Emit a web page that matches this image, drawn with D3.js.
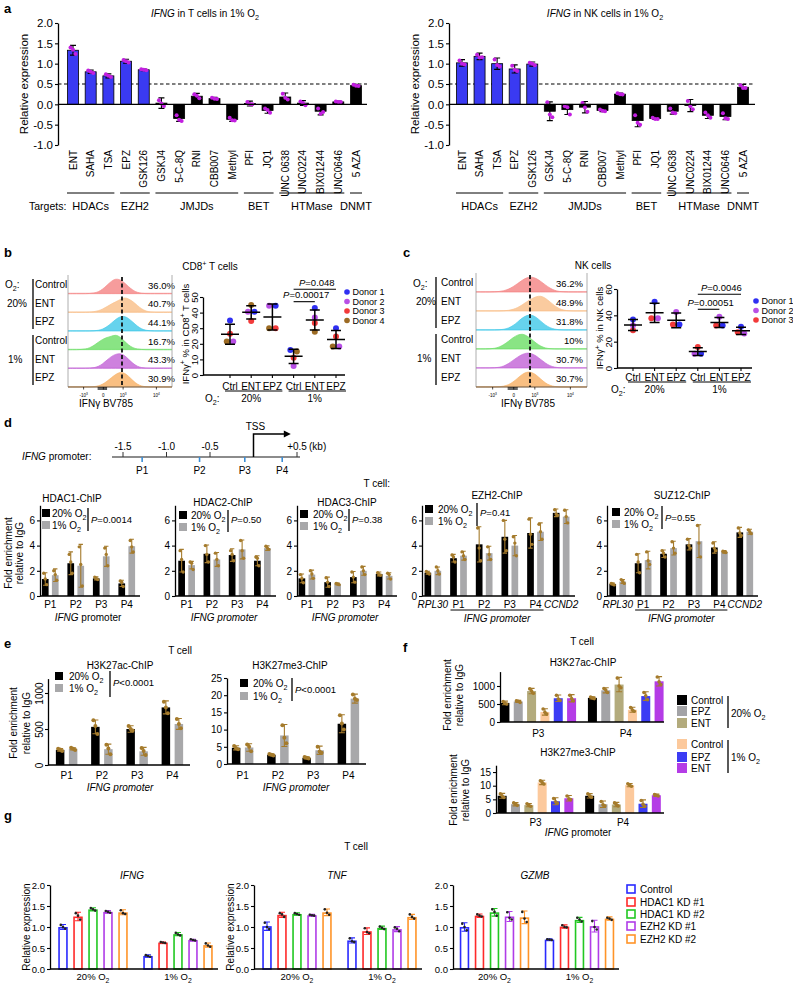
<!DOCTYPE html>
<html>
<head>
<meta charset="utf-8">
<script src="https://cdn.jsdelivr.net/npm/d3@7"></script>
<style>
  body { margin: 0; background: #fff; }
  svg { display: block; }
</style>
</head>
<body>
<div id="chart"></div>
<script>
// ---------- data: panel a ----------
const aCats = ["ENT","SAHA","TSA","EPZ","GSK126","GSKJ4","5-C-8Q","RNI","CBB007","Methyl","PFI","JQ1","UNC 0638","UNC0224","BIX01244","UNC0646","5 AZA"];
const aGroups = ["HDACs","EZH2","JMJDs","BET","HTMase","DNMT"];
const aGroupFirst = ["ENT","EPZ","GSKJ4","PFI","UNC 0638","5 AZA"];
const aGroupLast = ["TSA","GSK126","Methyl","JQ1","UNC0646","5 AZA"];
const aTicks = [-1, -0.5, 0, 0.5, 1, 1.5, 2];
const aTMean = [1.33,0.80,0.70,1.06,0.85,0.03,-0.35,0.20,0.14,-0.37,0.02,-0.15,0.18,0.03,-0.17,0.06,0.46];
const aTSd = [0.12,0.04,0.05,0.05,0.02,0.13,0.07,0.07,0.03,0.05,0.06,0.07,0.10,0.06,0.09,0.02,0.03];
const aTPts = [[1.40,1.34,1.24],[0.83,0.80,0.77],[0.74,0.70,0.67],[1.09,1.06,1.03],[0.86,0.85,0.84],[0.10,0.02,-0.04],[-0.27,-0.38,-0.41],[0.25,0.21,0.15],[0.16,0.14,0.13],[-0.33,-0.39,-0.40],[0.06,0.01,0.00],[-0.10,-0.14,-0.21],[0.26,0.16,0.12],[0.07,0.03,-0.02],[-0.10,-0.23,-0.19],[0.07,0.06,0.06],[0.48,0.46,0.45]];
const aNKMean = [1.02,1.18,1.00,0.87,0.99,-0.17,-0.13,-0.07,-0.15,0.25,-0.40,-0.35,-0.17,-0.03,-0.27,-0.30,0.42];
const aNKSd = [0.08,0.08,0.14,0.10,0.05,0.23,0.12,0.14,0.03,0.03,0.15,0.02,0.07,0.15,0.08,0.08,0.07];
const aNKPts = [[1.08,1.00,0.98],[1.22,1.15,1.16],[1.10,0.97,0.93],[0.95,0.85,0.82],[1.02,1.00,0.96],[0.05,-0.25,-0.32],[-0.05,-0.07,-0.25],[0.03,-0.08,-0.18],[-0.13,-0.16,-0.17],[0.27,0.25,0.24],[-0.27,-0.45,-0.50],[-0.33,-0.36,-0.36],[-0.10,-0.20,-0.22],[0.08,-0.05,-0.12],[-0.20,-0.27,-0.33],[-0.22,-0.34,-0.36],[0.47,0.40,0.40]];

// ---------- data: panels b, c ----------
const flowConds = ["Control","ENT","EPZ","Control","ENT","EPZ"];
const flowAxisLabels = ["-10^3","0","10^3","10^4"];
const flowAxisPos = [0.15, 0.34, 0.53, 0.85];
const bHist = [
  [0,0,0,0,0,0.01,0.04,0.12,0.3,0.56,0.84,1.0,0.95,0.74,0.46,0.22,0.08,0.02,0,0,0,0,0,0,0],
  [0,0,0,0,0,0.01,0.04,0.1,0.22,0.38,0.56,0.7,0.85,1.0,0.9,0.72,0.46,0.22,0.08,0.02,0,0,0,0,0],
  [0,0,0,0,0,0,0.01,0.04,0.12,0.28,0.52,0.78,0.96,1.0,0.84,0.58,0.32,0.13,0.04,0.01,0,0,0,0,0],
  [0,0,0,0.01,0.04,0.12,0.28,0.5,0.7,0.82,0.9,1.0,0.86,0.58,0.3,0.12,0.04,0.01,0,0,0,0,0,0,0],
  [0,0,0,0,0,0.01,0.04,0.12,0.3,0.55,0.8,0.95,1.0,0.88,0.6,0.32,0.13,0.04,0.01,0,0,0,0,0,0],
  [0,0,0,0,0,0,0.02,0.07,0.18,0.38,0.62,0.85,1.0,0.95,0.72,0.42,0.18,0.06,0.01,0,0,0,0,0,0]
];
const bPct = ["36.0%","40.7%","44.1%","16.7%","43.3%","30.9%"];
const cHist = [
  [0,0,0,0,0.01,0.03,0.08,0.18,0.34,0.55,0.78,0.95,1.0,0.9,0.7,0.46,0.25,0.1,0.03,0.01,0,0,0,0,0],
  [0,0,0,0,0,0,0.01,0.04,0.1,0.22,0.4,0.62,0.8,0.95,1.0,0.85,0.6,0.34,0.15,0.05,0.01,0,0,0,0],
  [0,0,0,0,0,0.01,0.04,0.12,0.28,0.52,0.8,0.97,1.0,0.85,0.58,0.32,0.14,0.05,0.01,0,0,0,0,0,0],
  [0,0,0,0.01,0.04,0.12,0.28,0.5,0.75,0.93,1.0,0.88,0.64,0.38,0.18,0.06,0.02,0,0,0,0,0,0,0,0],
  [0,0,0,0,0.01,0.04,0.12,0.28,0.5,0.72,0.9,1.0,0.96,0.8,0.56,0.32,0.14,0.05,0.01,0,0,0,0,0,0],
  [0,0,0,0,0,0.01,0.05,0.14,0.32,0.58,0.84,1.0,0.98,0.8,0.52,0.26,0.1,0.03,0,0,0,0,0,0,0]
];
const cPct = ["36.2%","48.9%","31.8%","10%","30.7%","30.7%"];
const scatCats = ["Ctrl","ENT","EPZ","Ctrl","ENT","EPZ"];
const scatO2 = ["20%","1%"];
const donors = ["Donor 1","Donor 2","Donor 3","Donor 4"];
// one row per condition, donors 1..4
const bVals = [[35,21.5,26.5,21.5],[40.6,40.6,34.6,44.9],[44.4,44.4,30,30],[16,5.8,11,15],[43,36.8,33.3,27.8],[30,18.2,24.6,18.2]];
const cVals = [[36.9,32.3,28.7],[50.3,37.7,37.7],[33,42.6,33],[10.8,10.8,15.9],[32.3,39,32.3],[31.3,26.2,27.2]];
const bPFrom = [3, 3], bPTo = [5, 4], bPAt = [55, 47], bPText = ["*P*=0.048", "*P*=0.00017"];
const cPFrom = [3, 3], cPTo = [5, 4], cPAt = [56, 44.6], cPText = ["*P*=0.0046", "*P*=0.00051"];

// ---------- data: panel d ----------
const kbTicks = [-1.5, -1.0, -0.5, 0.5];
const kbTickLabels = ["-1.5", "-1.0", "-0.5", "+0.5"];
const probes = ["P1","P2","P3","P4"];
const probeKb = [-1.28, -0.62, -0.10, 0.33];
const chip4 = ["P1","P2","P3","P4"];
const chip6 = ["RPL30","P1","P2","P3","P4","CCND2"];
const o2Labels = ["20% O_2", "1% O_2"];
const hdac1Mean = [[1.35,2.6,1.4,1.0],[1.65,2.4,3.15,3.95]];
const hdac1Sd = [[0.5,0.9,0.12,0.25],[0.5,1.7,0.8,0.55]];
const hdac1Pts = [[[1.8,1.35,0.9],[3.3,2.7,1.8],[1.5,1.4,1.3],[1.2,1.1,0.75]],[[2.0,1.7,1.25],[3.9,2.5,0.8],[3.8,3.3,2.4],[4.4,3.9,3.5]]];
const hdac2Mean = [[2.8,3.35,3.25,2.8],[2.45,2.9,3.7,3.8]];
const hdac2Sd = [[0.9,0.7,0.5,0.4],[0.3,0.55,0.75,0.18]];
const hdac2Pts = [[[3.6,2.9,1.9],[4.0,3.3,2.7],[3.6,3.3,2.8],[3.1,3.0,2.4]],[[2.7,2.6,2.1],[3.4,2.9,2.4],[4.4,3.6,3.0],[3.95,3.8,3.7]]];
const hdac3Mean = [[1.4,1.1,1.5,1.75],[1.7,0.95,2.0,1.6]];
const hdac3Sd = [[0.35,0.4,0.45,0.15],[0.35,0.08,0.35,0.25]];
const hdac3Pts = [[[1.7,1.4,1.05],[1.45,1.1,0.75],[1.9,1.5,1.1],[1.85,1.7,1.65]],[[2.0,1.75,1.4],[1.0,0.95,0.9],[2.3,2.0,1.7],[1.8,1.7,1.35]]];
const ezh2Mean = [[1.85,3.0,4.1,4.7,5.0,6.6],[2.0,3.2,3.4,4.0,5.1,6.3]];
const ezh2Sd = [[0.12,0.3,1.4,1.3,1.2,0.3],[0.3,0.35,0.55,0.8,0.7,0.55]];
const ezh2Pts = [[[1.95,1.85,1.75],[3.25,3.1,2.7],[5.4,3.8,2.8],[6.0,4.5,3.6],[6.1,4.9,4.1],[6.85,6.5,6.4]],[[2.3,2.0,1.75],[3.5,3.2,2.9],[3.9,3.3,2.9],[4.7,4.2,3.2],[5.7,5.1,4.5],[6.8,6.3,5.8]]];
const suz12Mean = [[0.95,2.6,3.35,4.1,3.85,5.05],[1.15,2.85,3.8,4.35,3.5,5.1]];
const suz12Sd = [[0.08,0.75,0.3,0.45,0.45,0.4],[0.15,0.7,0.55,1.3,0.1,0.2]];
const suz12Pts = [[[1.0,0.95,0.88],[3.3,2.7,1.85],[3.6,3.4,3.1],[4.5,4.0,3.8],[4.2,3.8,3.6],[5.4,5.0,4.8]],[[1.3,1.15,1.0],[3.5,2.8,2.5],[4.3,3.8,3.4],[5.6,4.2,3.1],[3.55,3.5,3.45],[5.25,5.1,4.95]]];

// ---------- data: panel e ----------
const ac27Mean = [[210,530,500,800],[225,220,190,570]];
const ac27Sd = [[20,95,45,90],[15,70,55,75]];
const ac27Pts = [[[225,215,195],[620,540,430],[540,500,480],[880,800,720]],[[240,225,210],[280,230,150],[235,195,140],[640,570,510]]];
const me3Mean = [[4.7,2.7,1.8,11.7],[4.8,8.3,4.0,19.0]];
const me3Sd = [[0.6,0.3,0.3,2.6],[1.1,3.2,1.2,1.3]];
const me3Pts = [[[5.2,4.6,4.3],[2.9,2.7,2.5],[2.0,1.8,1.6],[14.2,11.8,10.0]],[[5.7,5.0,3.7],[11.3,7.6,6.0],[5.0,3.6,3.3],[20.2,19.0,18.6]]];

// ---------- data: panel f ----------
const fConds = ["Control","EPZ","ENT","Control","EPZ","ENT"];
const fSites = ["P3","P4"];
const fAcMean = [[530,670],[570,880],[860,1040],[280,340],[660,720],[660,1130]];
const fAcSd = [[50,30],[30,70],[75,200],[90,70],[90,120],[100,130]];
const fAcPts = [[[570,520,500],[695,670,650]],[[590,575,545],[930,890,820]],[[920,860,800],[1220,1000,950]],[[360,270,220],[400,330,300]],[[740,640,600],[820,730,620]],[[740,650,590],[1250,1120,1040]]];
const fMeMean = [[6.3,6.3],[3.2,3.2],[2.9,3.1],[11.2,10.2],[4.3,3.4],[5.4,6.5]];
const fMeSd = [[0.9,0.8],[0.6,1.2],[0.6,0.8],[0.8,0.6],[1.3,1.4],[1.0,0.4]];
const fMePts = [[[7.0,6.2,5.7],[7.0,6.3,5.8]],[[3.7,3.2,2.8],[4.2,3.0,2.6]],[[3.4,2.8,2.5],[3.7,3.1,2.6]],[[11.8,11.2,10.6],[10.7,10.2,9.8]],[[5.3,4.1,3.6],[4.6,3.2,2.5]],[[6.2,5.2,4.9],[6.8,6.5,6.2]]];

// ---------- data: panel g ----------
const kdConds = ["Control","HDAC1 KD #1","HDAC1 KD #2","EZH2 KD #1","EZH2 KD #2"];
const kdO2 = ["20% O_2","1% O_2"];
const ifngMean = [[1.0,0.31],[1.25,0.63],[1.42,0.83],[1.36,0.69],[1.35,0.57]];
const ifngSd = [[0.06,0.03],[0.1,0.01],[0.04,0.04],[0.03,0.02],[0.06,0.05]];
const ifngPts = [[[1.05,1.0,0.96],[0.33,0.31,0.29]],[[1.33,1.27,1.18],[0.64,0.63,0.62]],[[1.45,1.42,1.39],[0.86,0.82,0.8]],[[1.38,1.36,1.34],[0.71,0.69,0.68]],[[1.4,1.33,1.31],[0.61,0.56,0.53]]];
const tnfMean = [[1.02,0.68],[1.29,0.9],[1.31,0.98],[1.28,0.95],[1.35,1.24]];
const tnfSd = [[0.1,0.06],[0.06,0.08],[0.03,0.04],[0.02,0.06],[0.08,0.06]];
const tnfPts = [[[1.1,1.0,0.95],[0.73,0.66,0.64]],[[1.33,1.3,1.24],[0.97,0.88,0.85]],[[1.33,1.31,1.29],[1.01,0.98,0.95]],[[1.29,1.28,1.27],[0.99,0.96,0.9]],[[1.42,1.34,1.29],[1.3,1.24,1.2]]];
const gzmbMean = [[1.0,0.7],[1.27,1.01],[1.35,1.17],[1.25,1.02],[1.23,1.2]];
const gzmbSd = [[0.1,0.02],[0.04,0.04],[0.09,0.06],[0.12,0.14],[0.15,0.04]];
const gzmbPts = [[[1.08,1.0,0.92],[0.71,0.7,0.69]],[[1.3,1.27,1.25],[1.04,1.0,0.99]],[[1.42,1.36,1.27],[1.22,1.18,1.13]],[[1.35,1.22,1.18],[1.14,1.0,0.94]],[[1.36,1.2,1.12],[1.22,1.2,1.17]]];

// ---------- styles ----------
const FONT = "'Liberation Sans', Arial, Helvetica, sans-serif";
const BLUE = "#3a3af2", MAG = "#c21fe0", GOLD = "#a57b2c", GREY = "#a8a8aa";
const chipCols = ["#000", GREY];
const flowCols = ["#f58b8b","#f9c28e","#4bcbea","#74df6e","#c66bd8","#f8b46c"];
const donorCols = ["#2f2ff2","#b850e6","#f23a3a","#9c6b24"];
const fCols = ["#000","#a3a3a6","#b3ab7d","#fcc99c","#3c3cf4","#b43ce6"];
const kdCols = ["#2a2aff","#ff2a2a","#22c822","#b03ce8","#ff9428"];

const svg = d3.select("#chart").append("svg")
  .attr("width", 793).attr("height", 986)
  .attr("font-family", FONT);
svg.append("rect").attr("width", 793).attr("height", 986).attr("fill", "#fff");

// tiny markup: *italic*, _x subscript, ^x superscript
function rich(sel, str, fs) {
  const segs = [];
  let it = false, buf = "";
  const flush = () => { if (buf) segs.push({t: buf, it}); buf = ""; };
  for (let i = 0; i < str.length; i++) {
    const ch = str[i];
    if (ch === "*") { flush(); it = !it; }
    else if (ch === "_" || ch === "^") { flush(); segs.push({t: str[++i], it, s: ch}); }
    else buf += ch;
  }
  flush();
  let cur = 0;
  segs.forEach(sg => {
    const ts = sel.append("tspan").text(sg.t);
    if (sg.it) ts.attr("font-style", "italic");
    const want = sg.s === "_" ? fs * 0.3 : sg.s === "^" ? -fs * 0.4 : 0;
    if (want !== cur) { ts.attr("dy", want - cur); cur = want; }
    if (sg.s) ts.attr("font-size", fs * 0.72);
  });
}

function T(g, x, y, str, o = {}) {
  const fs = o.fs || 10;
  const t = g.append("text").attr("x", x).attr("y", y + fs * 0.35)
    .attr("font-size", fs).attr("text-anchor", o.anchor || "middle")
    .style("white-space", "pre");
  if (o.bold) t.attr("font-weight", "bold");
  if (o.rot) t.attr("transform", `rotate(${o.rot},${x},${y})`);
  rich(t, str, fs);
  return t;
}

function line(g, x1, y1, x2, y2, w = 1.2, col = "#000") {
  return g.append("line").attr("x1", x1).attr("y1", y1).attr("x2", x2).attr("y2", y2)
    .attr("stroke", col).attr("stroke-width", w);
}

function yAxis(g, y, x, ticks, fmt, fs, rot) {
  const a = g.append("g").attr("transform", `translate(${x},0)`)
    .call(d3.axisLeft(y).tickValues(ticks).tickFormat(fmt).tickSize(3).tickSizeOuter(0).tickPadding(2));
  a.attr("font-family", FONT).attr("font-size", fs);
  a.select(".domain").attr("stroke-width", 1.3);
  a.selectAll(".tick line").attr("stroke-width", 1.1);
  if (rot) a.selectAll(".tick text").attr("transform", "rotate(-90)")
    .attr("text-anchor", "middle").attr("x", 0).attr("y", -5).attr("dy", 0);
  return a;
}

function errBars(g, rows, y, cap, col, sw) {
  g.append("g").selectAll("path").data(rows).join("path")
    .attr("d", d => {
      const t = y(d.m + d.sd), b = y(d.m - d.sd);
      return `M${d.cx - cap},${t}H${d.cx + cap}M${d.cx},${t}V${b}M${d.cx - cap},${b}H${d.cx + cap}`;
    })
    .attr("fill", "none").attr("stroke", d => col(d)).attr("stroke-width", sw);
}

function dots(g, rows, y, r, col, sp) {
  const pts = rows.flatMap(d => d.pts.map((v, k) => ({cx: d.cx + (k - 1) * sp, v, d})));
  g.append("g").selectAll("circle").data(pts).join("circle")
    .attr("cx", p => p.cx).attr("cy", p => y(p.v)).attr("r", r).attr("fill", p => col(p.d));
}

// ---------- panel letters ----------
[["a", 4, 8], ["b", 4, 252], ["c", 403, 252], ["d", 4, 422], ["e", 4, 643], ["f", 403, 647], ["g", 4, 815]]
  .forEach(([s, x, y]) => T(svg, x, y, s, {fs: 13, bold: true, anchor: "start"}));

// ---------- panel a ----------
function drawA(mean, sd, pts, ax, end, c0, c1, title, titleX, yLabX, targets) {
  const g = svg.append("g");
  const y = d3.scaleLinear().domain([-1, 2]).range([145, 23]);
  const x = d3.scalePoint().domain(aCats).range([c0, c1]);
  const rows = aCats.map((c, i) => ({i, cx: x(c), m: mean[i], sd: sd[i], pts: pts[i]}));
  line(g, ax, y(0.5), end, y(0.5), 1.1).attr("stroke-dasharray", "3.5,2.5");
  g.append("g").selectAll("rect").data(rows).join("rect")
    .attr("x", d => d.cx - 5.5).attr("width", 11)
    .attr("y", d => y(Math.max(0, d.m))).attr("height", d => Math.abs(y(d.m) - y(0)))
    .attr("fill", d => d.i < 5 ? BLUE : "#000").attr("stroke", "#000").attr("stroke-width", 0.8);
  errBars(g, rows, y, 3, () => "#000", 1.1);
  dots(g, rows, y, 2, () => MAG, 2.5);
  line(g, ax, y(0), end, y(0), 1.3);
  yAxis(g, y, ax, aTicks, d => d.toFixed(1), 11.5);
  T(g, titleX, 13, title, {fs: 10});
  T(g, yLabX, y(0.5), "Relative expression", {fs: 11.5, rot: -90});
  aCats.forEach(c => T(g, x(c), 150, c, {fs: 10, rot: -90, anchor: "end"}));
  aGroups.forEach((name, k) => {
    const xa = x(aGroupFirst[k]) - 6, xb = x(aGroupLast[k]) + 6;
    line(g, xa, 193, xb, 193, 1);
    T(g, (xa + xb) / 2, 206, name, {fs: 11});
  });
  if (targets) T(g, 29, 206, "Targets:", {fs: 10.5, anchor: "start"});
}
drawA(aTMean, aTSd, aTPts, 58, 367, 73, 356, "*IFNG* in T cells in 1% O_2", 205, 24, true);
drawA(aNKMean, aNKSd, aNKPts, 449, 755, 462, 743, "*IFNG* in NK cells in 1% O_2", 605, 415, false);

// ---------- panels b, c: flow histograms ----------
function drawFlow(hist, pct, o) {
  const g = svg.append("g");
  const rh = (o.y1 - o.y0) / hist.length;
  const xs = d3.scaleLinear().domain([0, hist[0].length - 1]).range([o.x0, o.x1]);
  const fx = d3.scaleLinear().domain([0, 1]).range([o.x0, o.x1]);
  hist.forEach((h, i) => {
    const base = o.y0 + rh * (i + 1);
    const ys = d3.scaleLinear().domain([0, 1]).range([base, base - rh * 0.8]);
    line(g, o.x0, base - 0.5, o.x1, base - 0.5, 1, flowCols[i]).attr("stroke-opacity", 0.45);
    g.append("path").datum(h)
      .attr("d", d3.area().x((d, j) => xs(j)).y0(base).y1(d => ys(d)).curve(d3.curveBasis))
      .attr("fill", flowCols[i]).attr("fill-opacity", 0.85)
      .attr("stroke", flowCols[i]).attr("stroke-width", 0.7);
    T(g, o.pctX, base - rh / 2 + 1, pct[i], {fs: 9.5, anchor: "end"});
    T(g, o.labX, base - rh / 2, flowConds[i], {fs: 10, anchor: "start"});
  });
  line(g, o.x0, o.y0, o.x0, o.y1, 0.8, "#999");
  line(g, o.x1, o.y0, o.x1, o.y1, 0.8, "#999");
  line(g, o.x0, o.y1, o.x1, o.y1, 0.8, "#444");
  line(g, o.dash, o.y0 + 2, o.dash, o.y1, 1.8, "#111").attr("stroke-dasharray", "4,2.5");
  flowAxisPos.forEach((p, i) => {
    line(g, fx(p), o.y1, fx(p), o.y1 + 2.5, 0.7);
    T(g, fx(p), o.y1 + 8, flowAxisLabels[i], {fs: 4.5});
  });
  g.append("g").selectAll("line").data(d3.range(0.29, 0.375, 0.009)).join("line")
    .attr("x1", d => fx(d)).attr("x2", d => fx(d)).attr("y1", o.y1).attr("y2", o.y1 + 3)
    .attr("stroke", "#000").attr("stroke-width", 0.7);
  T(g, o.titleX, o.y1 + 16, "IFNγ BV785", {fs: 10});
  // O2 grouping
  T(g, o.o2X, o.o2Y, "O_2:", {fs: 10, anchor: "start"});
  line(g, o.vX, o.y0 + 4, o.vX, o.y0 + 3 * rh - 2, 1.3);
  line(g, o.vX, o.y0 + 3 * rh + 4, o.vX, o.y1 - 2, 1.3);
  T(g, o.gpX, o.y0 + rh * 1.5, "20%", {fs: 10, anchor: "start"});
  T(g, o.gpX + 1, o.y0 + rh * 4.5, "1%", {fs: 10, anchor: "start"});
}
drawFlow(bHist, bPct, {x0: 68, x1: 172, y0: 275, y1: 387, dash: 122, labX: 35, vX: 33, o2X: 5, o2Y: 284, gpX: 7, pctX: 175, titleX: 106});
drawFlow(cHist, cPct, {x0: 476, x1: 587, y0: 273, y1: 387, dash: 530, labX: 441, vX: 436, o2X: 413, o2Y: 283, gpX: 416, pctX: 583, titleX: 528});
T(svg, 210, 266, "CD8^+ T cells", {fs: 10});
T(svg, 593, 265, "NK cells", {fs: 10});

// ---------- panels b, c: scatter ----------
function drawScatter(vals, nD, o) {
  const g = svg.append("g");
  const y = d3.scaleLinear().domain(o.dom).range([o.y0, o.yTop]);
  const x = d3.scalePoint().domain(d3.range(vals.length)).range([o.c0, o.c1]);
  yAxis(g, y, o.ax, o.ticks, d => d, 9.5, true);
  line(g, o.ax, o.y0, o.xEnd, o.y0, 1.3);
  g.append("g").selectAll("line").data(d3.range(vals.length)).join("line")
    .attr("x1", i => x(i)).attr("x2", i => x(i)).attr("y1", o.y0).attr("y2", o.y0 + 3)
    .attr("stroke", "#000").attr("stroke-width", 1.1);
  scatCats.forEach((c, i) => T(g, x(i), o.labY, c, {fs: 10}));
  scatO2.forEach((s, k) => {
    const xa = x(k * 3) - 5, xb = x(k * 3 + 2) + 10;
    line(g, xa, o.ulY, xb, o.ulY, 1);
    T(g, (x(k * 3) + x(k * 3 + 2)) / 2, o.grpY, s, {fs: 10});
  });
  T(g, o.o2X, o.grpY, "O_2:", {fs: 10, anchor: "start"});
  // donor dots, spread apart when values coincide
  const pts = [];
  vals.forEach((v, i) => {
    const order = d3.sort(d3.range(v.length), k => v[k]);
    const clusters = [];
    order.forEach(k => {
      const last = clusters[clusters.length - 1];
      if (last && v[k] - v[last[last.length - 1]] < 2.5) last.push(k); else clusters.push([k]);
    });
    clusters.forEach(cl => cl.slice().reverse().forEach((k, j) =>
      pts.push({cx: x(i) + (j - (cl.length - 1) / 2) * 6.5, v: v[k], k})));
  });
  g.append("g").selectAll("circle").data(pts).join("circle")
    .attr("cx", p => p.cx).attr("cy", p => y(p.v)).attr("r", 3).attr("fill", p => donorCols[p.k]);
  const sum = vals.map((v, i) => ({cx: x(i), m: d3.mean(v), sd: d3.deviation(v)}));
  g.append("g").selectAll("path").data(sum).join("path")
    .attr("d", d => `M${d.cx - 9},${y(d.m)}H${d.cx + 9}M${d.cx},${y(d.m + d.sd)}V${y(d.m - d.sd)}` +
      `M${d.cx - 5},${y(d.m + d.sd)}H${d.cx + 5}M${d.cx - 5},${y(d.m - d.sd)}H${d.cx + 5}`)
    .attr("fill", "none").attr("stroke", "#000").attr("stroke-width", 1.5);
  o.pFrom.forEach((f, k) => {
    line(g, x(f), y(o.pAt[k]), x(o.pTo[k]), y(o.pAt[k]), 1.1);
    T(g, (x(f) + x(o.pTo[k])) / 2 + 2, y(o.pAt[k]) - 7, o.pText[k], {fs: 9.5});
  });
  donors.slice(0, nD).forEach((d, k) => {
    g.append("circle").attr("cx", o.legX).attr("cy", o.legY[k]).attr("r", 2.8).attr("fill", donorCols[k]);
    T(g, o.legX + 5.5, o.legY[k], d, {fs: 9, anchor: "start"});
  });
  T(g, o.yLabX, o.yLabY, o.yLab, {fs: 9.5, rot: -90});
}
drawScatter(bVals, 4, {ax: 203, y0: 375, yTop: 297, dom: [0, 50], ticks: [0, 10, 20, 30, 40, 50],
  c0: 230, c1: 336, xEnd: 345, labY: 386, ulY: 391, grpY: 398, o2X: 205,
  pFrom: bPFrom, pTo: bPTo, pAt: bPAt, pText: bPText,
  legX: 347, legY: [292, 301.5, 311, 320.5], yLabX: 185.5, yLabY: 334, yLab: "IFNγ^+ % in CD8^+ T cells"});
drawScatter(cVals, 3, {ax: 617, y0: 368, yTop: 289, dom: [0, 60], ticks: [0, 20, 40, 60],
  c0: 633, c1: 741, xEnd: 752, labY: 377, ulY: 382, grpY: 389, o2X: 611,
  pFrom: cPFrom, pTo: cPTo, pAt: cPAt, pText: cPText,
  legX: 756, legY: [301, 310.5, 320], yLabX: 600, yLabY: 328, yLab: "IFNγ^+ % in NK cells"});

// ---------- panel d: promoter map ----------
(function () {
  const g = svg.append("g");
  const kb = d3.scaleLinear().domain([-1.5, 0.5]).range([123, 297]);
  const ly = 457;
  T(g, 22, 456, "*IFNG* promoter:", {fs: 10, anchor: "start"});
  line(g, 112, ly, 300, ly, 1.3, "#666");
  g.append("g").selectAll("line").data(kbTicks).join("line")
    .attr("x1", d => kb(d)).attr("x2", d => kb(d)).attr("y1", ly - 5).attr("y2", ly)
    .attr("stroke", "#333").attr("stroke-width", 1);
  kbTicks.forEach((d, i) => T(g, kb(d), 446, kbTickLabels[i], {fs: 10}));
  T(g, kb(0.5) + 12, 446, "(kb)", {fs: 10, anchor: "start"});
  g.append("path").attr("d", `M${kb(0)},${ly}V434H${kb(0.36)}`)
    .attr("fill", "none").attr("stroke", "#000").attr("stroke-width", 1.5);
  g.append("path").attr("d", `M${kb(0.36) - 1},430.5L${kb(0.36) + 6},434L${kb(0.36) - 1},437.5Z`).attr("fill", "#000");
  T(g, kb(0) + 2, 426, "TSS", {fs: 10});
  g.append("g").selectAll("line").data(probeKb).join("line")
    .attr("x1", d => kb(d)).attr("x2", d => kb(d)).attr("y1", ly).attr("y2", ly + 5)
    .attr("stroke", "#3b8ed6").attr("stroke-width", 1.6);
  probes.forEach((p, i) => T(g, kb(probeKb[i]), 470, p, {fs: 10}));
  T(g, 390, 483, "T cell:", {fs: 10, anchor: "end"});
})();

// ---------- grouped bar charts (d, e, f, g) ----------
function drawChip(o) {
  const g = svg.append("g");
  const y = d3.scaleLinear().domain([0, o.ymax]).range([o.y0, o.y0 - o.ymax * o.ppu]);
  const nC = o.mean[0].length, nS = o.mean.length;
  const xo = d3.scaleBand().domain(d3.range(nC)).range(o.xr);
  const xi = d3.scaleBand().domain(d3.range(nS)).range(o.inner);
  const rows = o.mean.flatMap((ser, s) => ser.map((m, c) => ({s, c, m, sd: o.sd[s][c], pts: o.pts[s][c],
    cx: xo(c) + xo.bandwidth() / 2 + xi(s) + xi.bandwidth() / 2})));
  const bw = o.barW, h = o.hollow ? 0.8 : 0;
  g.append("g").selectAll("rect").data(rows).join("rect")
    .attr("x", d => d.cx - bw / 2 + h).attr("width", bw - 2 * h)
    .attr("y", d => y(d.m) + h).attr("height", d => y(0) - y(d.m) - h)
    .attr("fill", d => o.hollow ? "#fff" : o.cols[d.s])
    .attr("stroke", d => o.hollow ? o.cols[d.s] : "none").attr("stroke-width", 1.6);
  errBars(g, rows, y, o.cap, d => o.errCol || o.cols[d.s], 1.1);
  dots(g, rows, y, o.dotR, () => o.dotCol, o.spread);
  line(g, o.ax, o.y0, o.xEnd, o.y0, 1.4);
  yAxis(g, y, o.ax, o.ticks, o.fmt || (d => d), o.tfs || 10, o.rotTicks);
  if (o.title) T(g, o.titleX, o.titleY, o.title, {fs: 10});
  return {g, y, xc: c => xo(c) + xo.bandwidth() / 2};
}

function o2Leg(g, sx, tx, ry, lx, ly0, ly1, px, py, ptxt) {
  o2Labels.forEach((lab, k) => {
    g.append("rect").attr("x", sx).attr("y", ry[k] - 4).attr("width", 8).attr("height", 8).attr("fill", chipCols[k]);
    T(g, tx, ry[k], lab, {fs: 10, anchor: "start"});
  });
  line(g, lx, ly0, lx, ly1, 1.3);
  T(g, px, py, ptxt, {fs: 9.5, anchor: "start"});
}

const dBase = {ymax: 7.2, y0: 596, ppu: 12.6, inner: [-10, 10], barW: 6.7, cols: chipCols, errCol: GOLD,
  dotCol: GOLD, dotR: 1.7, spread: 1.5, cap: 2.2, ticks: [0, 2, 4, 6]};
let r = drawChip({...dBase, mean: hdac1Mean, sd: hdac1Sd, pts: hdac1Pts, xr: [37.5, 139.5], ax: 40, xEnd: 140,
  title: "HDAC1-ChIP", titleX: 72, titleY: 498});
chip4.forEach((c, i) => T(r.g, r.xc(i), 604, c));
T(r.g, 88, 617, "*IFNG* promoter");
o2Leg(r.g, 42, 52, [513, 525], 88, 508, 531, 91, 520, "*P*=0.0014");

r = drawChip({...dBase, mean: hdac2Mean, sd: hdac2Sd, pts: hdac2Pts, xr: [174, 275], ax: 175, xEnd: 276,
  title: "HDAC2-ChIP", titleX: 223, titleY: 502});
chip4.forEach((c, i) => T(r.g, r.xc(i), 604, c));
T(r.g, 224, 617, "*IFNG promoter*");
o2Leg(r.g, 179, 191, [515, 527], 228, 510, 532, 231, 520, "*P*=0.50");

r = drawChip({...dBase, mean: hdac3Mean, sd: hdac3Sd, pts: hdac3Pts, xr: [294, 397], ax: 297, xEnd: 397,
  title: "HDAC3-ChIP", titleX: 347, titleY: 502});
chip4.forEach((c, i) => T(r.g, r.xc(i), 604, c));
T(r.g, 345, 617, "*IFNG promoter*");
o2Leg(r.g, 300, 313, [514, 526], 349, 509, 531, 352, 520, "*P*=0.38");

function chip6Labels(r) {
  chip6.forEach((c, i) => T(r.g, r.xc(i), 604, (i === 0 || i === chip6.length - 1) ? `*${c}*` : c));
  line(r.g, r.xc(1) - 8, 610, r.xc(4) + 8, 610, 1);
  T(r.g, (r.xc(1) + r.xc(4)) / 2, 618, "*IFNG promoter*");
}
r = drawChip({...dBase, mean: ezh2Mean, sd: ezh2Sd, pts: ezh2Pts, xr: [420, 574], ax: 422, xEnd: 575,
  title: "EZH2-ChIP", titleX: 497, titleY: 495});
chip6Labels(r);
o2Leg(r.g, 425, 438, [509, 521], 477, 503, 526, 480, 513, "*P*=0.41");

r = drawChip({...dBase, mean: suz12Mean, sd: suz12Sd, pts: suz12Pts, xr: [605, 757.5], ax: 607, xEnd: 758,
  title: "SUZ12-ChIP", titleX: 682, titleY: 495});
chip6Labels(r);
o2Leg(r.g, 612, 624, [512, 524], 662, 506, 529, 665, 518, "*P*=0.55");

T(svg, 8, 553, "Fold enrichment", {fs: 10, rot: -90});
T(svg, 19, 553, "relative to IgG", {fs: 10, rot: -90});

// ---------- panel e ----------
T(svg, 180, 650, "T cell", {fs: 10});
const eBase = {inner: [-13, 13], barW: 8.5, cols: chipCols, errCol: GOLD, dotCol: GOLD, dotR: 2, spread: 2, cap: 3};
r = drawChip({...eBase, mean: ac27Mean, sd: ac27Sd, pts: ac27Pts, ymax: 1200, y0: 765, ppu: 0.072,
  xr: [49, 190], ax: 48, xEnd: 190, ticks: [0, 500, 1000], rotTicks: true,
  title: "H3K27ac-ChIP", titleX: 120, titleY: 665});
chip4.forEach((c, i) => T(r.g, r.xc(i), 775, c));
T(r.g, 120, 787, "*IFNG promoter*");
o2Leg(r.g, 55, 69, [676, 688], 110, 671, 697, 113, 683, "*P*<0.0001");
r = drawChip({...eBase, mean: me3Mean, sd: me3Sd, pts: me3Pts, ymax: 25, y0: 764, ppu: 3.44,
  xr: [225, 366], ax: 227, xEnd: 366, ticks: [0, 5, 10, 15, 20, 25],
  title: "H3K27me3-ChIP", titleX: 290, titleY: 665});
chip4.forEach((c, i) => T(r.g, r.xc(i), 775, c));
T(r.g, 296, 787, "*IFNG promoter*");
o2Leg(r.g, 240, 253, [683, 696], 292, 678, 701, 295, 690, "*P*<0.0001");
T(svg, 13, 723, "Fold enrichment", {fs: 10, rot: -90});
T(svg, 26, 723, "relative to IgG", {fs: 10, rot: -90});

// ---------- panel f ----------
T(svg, 582, 641, "T cell", {fs: 10});
const fBase = {inner: [-40, 40], barW: 9, cols: fCols, errCol: GOLD, dotCol: GOLD, dotR: 1.8, spread: 1.8, cap: 3};
r = drawChip({...fBase, mean: fAcMean, sd: fAcSd, pts: fAcPts, ymax: 1400, y0: 722, ppu: 0.036,
  xr: [494.5, 669.5], ax: 500, xEnd: 664, ticks: [0, 500, 1000],
  title: "H3K27ac-ChIP", titleX: 583, titleY: 662});
fSites.forEach((c, i) => T(r.g, r.xc(i), 733, c));
r = drawChip({...fBase, mean: fMeMean, sd: fMeSd, pts: fMePts, ymax: 17.5, y0: 813, ppu: 2.73,
  xr: [491.75, 666.75], ax: 496, xEnd: 664, ticks: [0, 5, 10, 15],
  title: "H3K27me3-ChIP", titleX: 578, titleY: 752});
fSites.forEach((c, i) => T(r.g, r.xc(i), 822, c));
T(r.g, 578, 832, "*IFNG* promoter");
T(svg, 447, 695, "Fold enrichment", {fs: 10, rot: -90});
T(svg, 459, 695, "relative to IgG", {fs: 10, rot: -90});
T(svg, 453, 790, "Fold enrichment", {fs: 10, rot: -90});
T(svg, 465, 790, "relative to IgG", {fs: 10, rot: -90});
(function () {
  const g = svg.append("g");
  const rowsY = [700, 711, 723, 744, 757, 768];
  fConds.forEach((c, i) => {
    g.append("rect").attr("x", 677).attr("y", rowsY[i] - 5).attr("width", 10).attr("height", 10).attr("fill", fCols[i]);
    T(g, 691, rowsY[i], c, {fs: 10, anchor: "start"});
  });
  line(g, 728, 696, 728, 728, 1.3);
  line(g, 728, 740, 728, 773, 1.3);
  T(g, 731, 713, "20% O_2", {fs: 10, anchor: "start"});
  T(g, 731, 757, "1% O_2", {fs: 10, anchor: "start"});
})();

// ---------- panel g ----------
T(svg, 356, 846, "T cell", {fs: 10});
const gBase = {ymax: 2, y0: 969, ppu: 42, inner: [-37.5, 37.5], barW: 9.5, hollow: true, cols: kdCols,
  dotCol: "#222", dotR: 1.3, spread: 2.2, cap: 3, ticks: [0, 0.5, 1, 1.5, 2], fmt: d => d.toFixed(1), tfs: 9.5};
[[ifngMean, ifngSd, ifngPts, "*IFNG*", 50, 218, [50.5, 220.5], 132],
 [tnfMean, tnfSd, tnfPts, "*TNF*", 254, 422, [254.5, 424.5], 337],
 [gzmbMean, gzmbSd, gzmbPts, "*GZMB*", 453, 619, [452, 622], 535]].forEach(([m, s, p, title, ax, xEnd, xr, tx], k) => {
  const rr = drawChip({...gBase, mean: m, sd: s, pts: p, ax, xEnd, xr, title, titleX: tx, titleY: 875});
  kdO2.forEach((c, i) => T(rr.g, rr.xc(i), 977, c, {fs: 9.5}));
  if (k < 2) T(rr.g, ax - 24, 927, "Relative expression", {fs: 10, rot: -90});
});
(function () {
  const g = svg.append("g");
  const rowsY = [889, 902, 914, 926, 939];
  kdConds.forEach((c, i) => {
    g.append("rect").attr("x", 627).attr("y", rowsY[i] - 4).attr("width", 8).attr("height", 8)
      .attr("fill", "#fff").attr("stroke", kdCols[i]).attr("stroke-width", 1.6);
    T(g, 640, rowsY[i], c, {fs: 10, anchor: "start"});
  });
})();
</script>
</body>
</html>
